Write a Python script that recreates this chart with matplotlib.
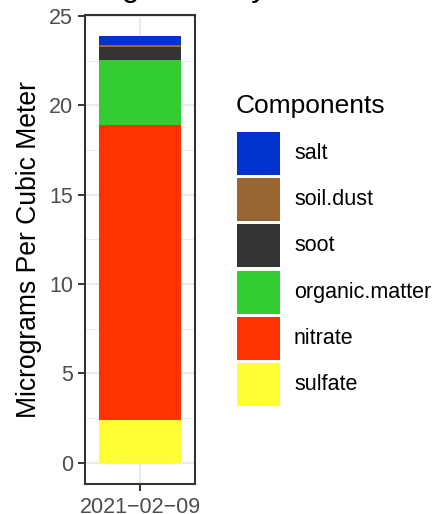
import matplotlib
matplotlib.use("Agg")
import matplotlib.pyplot as plt
from matplotlib.patches import Rectangle

plt.rcParams['font.family'] = ['Liberation Sans', 'DejaVu Sans']

# ---- data ----
dates = ["2021\u221202\u221209"]
components = ["sulfate", "nitrate", "organic.matter", "soot", "soil.dust", "salt"]
sulfate = [2.37]
nitrate = [16.53]
organic_matter = [3.62]
soot = [0.77]
soil_dust = [0.11]
salt = [0.47]
series = [sulfate, nitrate, organic_matter, soot, soil_dust, salt]
colors = ["#FFFF33", "#FF3300", "#33CC33", "#333333", "#996633", "#0033CC"]
yticks = [0, 5, 10, 15, 20, 25]
title = "Avg Mass by Date"
ylabel = "Micrograms Per Cubic Meter"
legend_title = "Components"

W, H = 433, 514
fig = plt.figure(figsize=(W / 100, H / 100), dpi=100)

def fx(px):
    return px / W

def fy(py):
    return 1 - py / H

# panel: x 85-195, y 15-484 (pixels)
ax = fig.add_axes([fx(85), fy(484), fx(195) - fx(85), fy(15) - fy(484)])

xpos = list(range(1, len(dates) + 1))
bottom = [0.0] * len(dates)
for vals, col in zip(series, colors):
    ax.bar(xpos, vals, width=0.9, bottom=bottom, color=col, linewidth=0, zorder=3)
    bottom = [b + v for b, v in zip(bottom, vals)]

total = max(bottom)
ax.set_ylim(-0.05 * total, 1.05 * total)
ax.set_xlim(0.4, len(dates) + 0.6)

ax.set_yticks(yticks)
ax.set_yticklabels([str(t) for t in yticks])
ax.set_yticks([2.5, 7.5, 12.5, 17.5, 22.5], minor=True)
ax.set_xticks(xpos)
ax.set_xticklabels(dates)

ax.grid(True, which='major', color='#EBEBEB', linewidth=1.4, zorder=0)
ax.grid(True, which='minor', axis='y', color='#EBEBEB', linewidth=0.7, zorder=0)
ax.set_axisbelow(True)
ax.tick_params(axis='both', which='major', length=5, width=1.4, color='#333333',
               labelsize=15.5, labelcolor='#4D4D4D', pad=3.6)
ax.tick_params(axis='x', pad=4.3)
ax.tick_params(which='minor', length=0)
for sp in ax.spines.values():
    sp.set_color('#333333')
    sp.set_linewidth(1.5)

ax.set_ylabel(ylabel, fontsize=19.1, color='black', labelpad=5)

# partially visible title (cut off at top)
fig.text(fx(85), (H + 3.7) / H, title, fontsize=23, ha='left', va='baseline', color='black')

# ---- legend (ggplot style, drawn manually) ----
fig.text(fx(236), fy(106), legend_title, fontsize=19, ha='left', va='center', color='black')
key_w, key_h, pitch, top0 = 43, 43, 46.2, 132
for i, (name, col) in enumerate(zip(components[::-1], colors[::-1])):
    top = top0 + i * pitch
    fig.add_artist(Rectangle((fx(237), fy(top + key_h)), fx(key_w), key_h / H,
                             transform=fig.transFigure, facecolor=col, edgecolor='none'))
    fig.text(fx(294), fy(top + key_h / 2), name, fontsize=15.5, ha='left', va='center',
             color='black')

fig.savefig("out.png", dpi=100)
